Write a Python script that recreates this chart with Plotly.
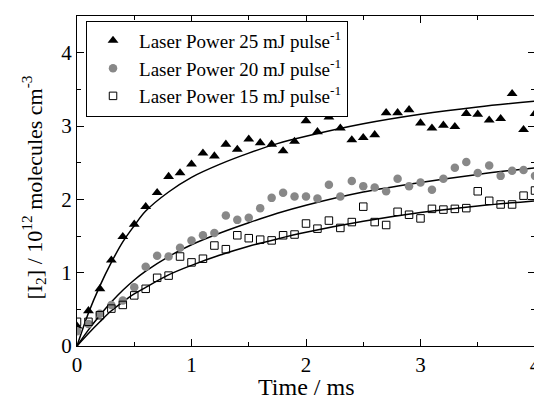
import plotly.graph_objects as go

# ---- data (time in ms, [I2] in 1e12 molecules cm^-3) ----
time_pts = [round(0.1 * i, 1) for i in range(41)]

tri_25 = [0.27, 0.48, 0.78, 1.17, 1.49, 1.66, 1.90, 2.09, 2.31, 2.36,
          2.48, 2.63, 2.59, 2.75, 2.68, 2.82, 2.77, 2.75, 2.66, 2.79,
          3.07, 2.92, 3.12, 2.97, 2.81, 2.84, 2.88, 3.18, 3.18, 3.22,
          3.04, 2.97, 3.01, 2.99, 3.17, 3.16, 3.08, 3.10, 3.44, 2.95,
          3.17]

circ_20 = [0.20, 0.30, 0.44, 0.56, 0.62, 0.80, 1.08, 1.23, 1.22, 1.34,
           1.44, 1.51, 1.54, 1.78, 1.72, 1.75, 1.88, 2.02, 2.09, 2.04,
           2.04, 2.01, 2.20, 2.04, 2.25, 2.18, 2.16, 2.11, 2.28, 2.18,
           2.23, 2.13, 2.28, 2.43, 2.51, 2.36, 2.46, 2.32, 2.39, 2.40,
           2.32]

sq_15 = [0.33, 0.33, 0.42, 0.51, 0.56, 0.69, 0.78, 0.93, 0.96, 1.22,
         1.14, 1.19, 1.37, 1.32, 1.51, 1.47, 1.45, 1.44, 1.51, 1.52,
         1.67, 1.60, 1.71, 1.61, 1.69, 1.90, 1.69, 1.65, 1.83, 1.79,
         1.74, 1.87, 1.86, 1.87, 1.88, 2.11, 1.98, 1.93, 1.93, 2.05,
         2.12]

# fitted curves
fit_t = [0, 0.1, 0.2, 0.3, 0.4, 0.5, 0.6, 0.8, 1.0, 1.25, 1.5, 1.75,
         2.0, 2.5, 3.0, 3.5, 4.0]
fit_25 = [0, 0.45, 0.82, 1.14, 1.42, 1.64, 1.84, 2.10, 2.30, 2.48, 2.63,
          2.76, 2.86, 3.03, 3.16, 3.26, 3.34]
fit_20 = [0, 0.22, 0.42, 0.60, 0.76, 0.90, 1.02, 1.22, 1.38, 1.54, 1.68,
          1.81, 1.92, 2.10, 2.23, 2.34, 2.43]
fit_15 = [0, 0.17, 0.33, 0.48, 0.60, 0.71, 0.80, 0.97, 1.10, 1.24, 1.36,
          1.46, 1.55, 1.70, 1.82, 1.91, 1.98]

labels = ["Laser Power 25 mJ pulse<sup>-1</sup>",
          "Laser Power 20 mJ pulse<sup>-1</sup>",
          "Laser Power 15 mJ pulse<sup>-1</sup>"]
x_title = "Time / ms"
y_title = "[I<sub>2</sub>] / 10<sup>12</sup> molecules cm<sup>-3</sup>"

FONT = "Liberation Serif"

fig = go.Figure()

for fy in (fit_25, fit_20, fit_15):
    fig.add_trace(go.Scatter(x=fit_t, y=fy, mode="lines", showlegend=False,
                             line=dict(color="black", width=1.5, shape="spline"),
                             hoverinfo="skip"))

fig.add_trace(go.Scatter(x=time_pts, y=tri_25, mode="markers", name=labels[0],
                         marker=dict(symbol="triangle-up", size=9.5, color="black")))
fig.add_trace(go.Scatter(x=time_pts, y=circ_20, mode="markers", name=labels[1],
                         marker=dict(symbol="circle", size=8.5, color="#888888")))
fig.add_trace(go.Scatter(x=time_pts, y=sq_15, mode="markers", name=labels[2],
                         marker=dict(symbol="square-open", size=7.5, color="black",
                                     line=dict(width=1))))

axis_common = dict(showline=True, linecolor="black", linewidth=1.2, mirror="allticks",
                   ticks="inside", ticklen=7, tickcolor="black", showgrid=False,
                   zeroline=False, automargin=False,
                   tickfont=dict(family=FONT, size=21, color="black"),
                   minor=dict(ticks="inside", ticklen=4, tickcolor="black", dtick=0.5))

fig.update_xaxes(range=[0, 4], dtick=1, **axis_common)
fig.update_yaxes(range=[0, 4.5], tickvals=[0, 1, 2, 3, 4], **axis_common)

fig.add_annotation(text=x_title, xref="paper", yref="paper", x=0.5, y=-0.125,
                   xanchor="center", yanchor="middle", showarrow=False, height=24,
                   font=dict(family=FONT, size=24, color="black"))
fig.add_annotation(text=y_title, xref="paper", yref="paper", x=-0.094, y=0.48,
                   xanchor="center", yanchor="middle", showarrow=False, textangle=-90,
                   font=dict(family=FONT, size=22, color="black"))

# the page body adds an 8px offset, so the figure is 8px smaller than the window
fig.update_layout(
    width=534, height=393,
    margin=dict(l=69, r=7, t=8, b=55),
    plot_bgcolor="white", paper_bgcolor="white",
    font=dict(family=FONT, color="black"),
    legend=dict(x=0.0197, y=0.986, xanchor="left", yanchor="top",
                bordercolor="black", borderwidth=1, bgcolor="white",
                font=dict(family=FONT, size=19, color="black"),
                tracegroupgap=0, itemwidth=42),
)

fig.write_html("out.html")
